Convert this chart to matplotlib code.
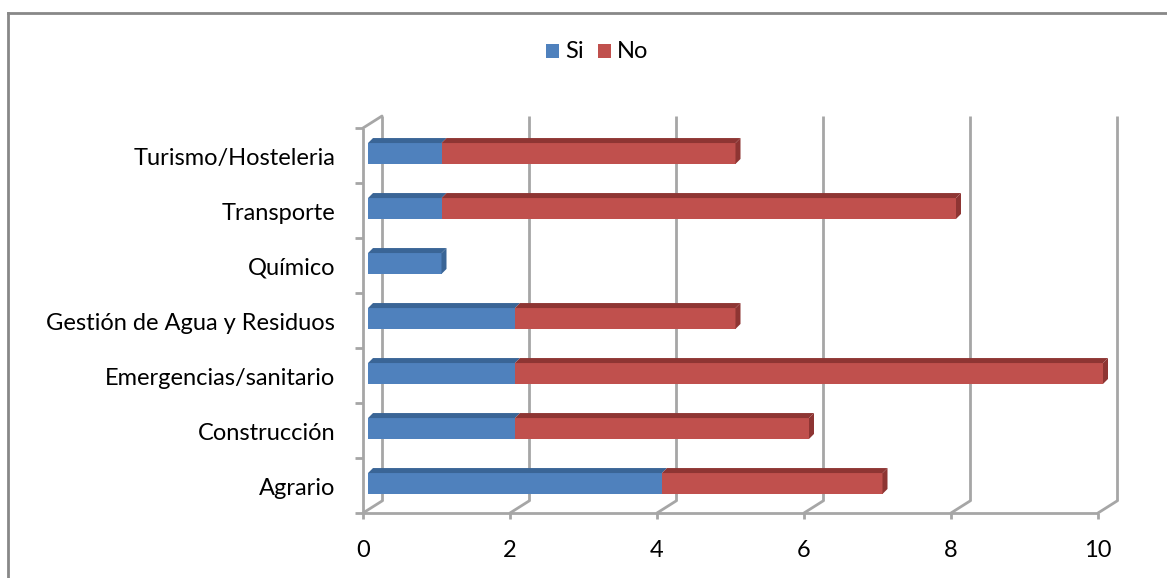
"""Stacked 3D-style bar chart: Si / No by sector."""

import matplotlib
matplotlib.use("Agg")
import matplotlib.pyplot as plt
from matplotlib.patches import Polygon, Rectangle
from matplotlib.transforms import offset_copy

# --- data -------------------------------------------------------------
categories = ["Agrario", "Construcción", "Emergencias/sanitario",
              "Gestión de Agua y Residuos", "Químico", "Transporte",
              "Turismo/Hosteleria"]
si_values = [4, 2, 2, 2, 1, 1, 1]
no_values = [3, 4, 8, 3, 0, 7, 4]
x_ticks = [0, 2, 4, 6, 8, 10]

W, H = 1167, 578
BLUE, BLUE_DK = "#4f81bd", "#3a6596"
RED, RED_DK = "#c0504d", "#8e3533"
GRID = "#a6a6a6"
FONT = "Lato"
FS = 17

fig = plt.figure(figsize=(W / 100, H / 100), dpi=100)
# front plane of the plot area, in pixels
left, right, top, bottom = 363, 1098, 128, 513
ax = fig.add_axes([left / W, (H - bottom) / H, (right - left) / W, (bottom - top) / H])
ax.set_xlim(0, 10)
ax.set_ylim(-0.5, len(categories) - 0.5)
ax.axis("off")

back = offset_copy(ax.transData, fig, x=19, y=12, units="dots")
face = offset_copy(ax.transData, fig, x=5, y=2, units="dots")
deep = offset_copy(ax.transData, fig, x=10, y=7, units="dots")

y0, y1 = -0.5, len(categories) - 0.5
lkw = dict(color=GRID, lw=2, solid_capstyle="butt", clip_on=False)
diag = dict(arrowstyle="-", color=GRID, lw=2, shrinkA=0, shrinkB=0)

# back wall gridlines + floor diagonals
for t in x_ticks:
    ax.plot([t, t], [y0, y1], transform=back, **lkw)
    ax.annotate("", xy=(t, y0), xycoords=back, xytext=(t, y0),
                textcoords=ax.transData, arrowprops=diag)
    ax.plot([t, t], [y0, y0 - 0.1], **lkw)
    ax.text(t, y0 - 0.68, str(t), ha="center", va="center", fontsize=FS, family=FONT)

# left wall: front axis line, top diagonal
ax.plot([0, 10], [y0, y0], **lkw)
ax.plot([0, 0], [y0, y1], **lkw)
ax.annotate("", xy=(0, y1), xycoords=back, xytext=(0, y1),
            textcoords=ax.transData, arrowprops=diag)
for k in range(len(categories) + 1):
    ax.plot([-0.11, 0], [y0 + k, y0 + k], **lkw)

# bars
bh = 0.38
for i, (si, no) in enumerate(zip(si_values, no_values)):
    lo, hi = i - bh / 2, i + bh / 2
    segs = [(0, si, BLUE, BLUE_DK), (si, si + no, RED, RED_DK)]
    for a, b, col, dk in segs:
        if b <= a:
            continue
        top_pts = [face.transform((a, hi)), face.transform((b, hi)),
                   deep.transform((b, hi)), deep.transform((a, hi))]
        fig.patches.append(Polygon(top_pts, closed=True, transform=None,
                                   facecolor=dk, edgecolor="none", zorder=3))
        ax.add_patch(Rectangle((a, lo), b - a, bh, transform=face, clip_on=False,
                               facecolor=col, edgecolor="none", zorder=4))
    end = si + no
    dk = RED_DK if no > 0 else BLUE_DK
    side_pts = [face.transform((end, lo)), face.transform((end, hi)),
                deep.transform((end, hi)), deep.transform((end, lo))]
    fig.patches.append(Polygon(side_pts, closed=True, transform=None,
                               facecolor=dk, edgecolor="none", zorder=3))
    ax.text(-0.38, i - 0.05, categories[i], ha="right", va="center",
            fontsize=FS, family=FONT)

# legend
for x, lab, col in [(546, "Si", BLUE), (598, "No", RED)]:
    fig.patches.append(Rectangle((x / W, (H - 58) / H), 13 / W, 14 / H,
                                 transform=fig.transFigure, facecolor=col))
    fig.text((x + 19) / W, (H - 51) / H, lab, ha="left", va="center",
             fontsize=FS, family=FONT)

# chart border
fig.add_artist(plt.Line2D([8 / W, 8 / W], [0, (H - 13) / H], color="#888888", lw=2))
fig.add_artist(plt.Line2D([8 / W, 1], [(H - 13) / H, (H - 13) / H], color="#888888", lw=2))

fig.savefig("out.png", dpi=100)
